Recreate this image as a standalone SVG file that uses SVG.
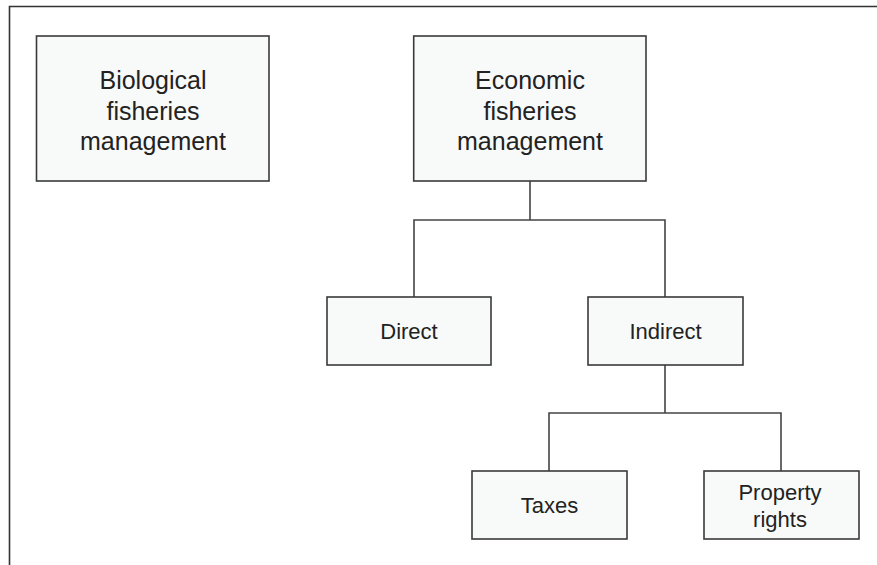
<svg xmlns="http://www.w3.org/2000/svg" width="877" height="565" viewBox="0 0 877 565">
<style>
.box{fill:#f8f9f9;stroke:#3a3a3a;stroke-width:1.6}
.lbl{font-family:"Liberation Sans",Arial,sans-serif;fill:#222;text-anchor:middle}
.big{font-size:25px}
.sm{font-size:22px}
.conn{fill:none;stroke:#444;stroke-width:1.6}
</style>
<rect width="877" height="565" fill="#fff"/>
<path d="M9.5,565 V6.5 H877" fill="none" stroke="#333" stroke-width="1.6"/>
<g id="connectors">
<path class="conn" d="M530,181 V220 M414,297 V220 H665 V297"/>
<path class="conn" d="M665,365 V413 M549,471 V413 H781 V471"/>
</g>
<g id="bio">
<rect class="box" x="36.5" y="36" width="232.5" height="145"/>
<text class="lbl big" x="153" y="89">Biological</text>
<text class="lbl big" x="153" y="119.5">fisheries</text>
<text class="lbl big" x="153" y="150">management</text>
</g>
<g id="eco">
<rect class="box" x="413.7" y="36" width="232.3" height="145"/>
<text class="lbl big" x="530" y="89">Economic</text>
<text class="lbl big" x="530" y="119.5">fisheries</text>
<text class="lbl big" x="530" y="150">management</text>
</g>
<g id="direct">
<rect class="box" x="327" y="297" width="164" height="68"/>
<text class="lbl sm" x="409" y="339">Direct</text>
</g>
<g id="indirect">
<rect class="box" x="588" y="297" width="155" height="68"/>
<text class="lbl sm" x="665.5" y="339">Indirect</text>
</g>
<g id="taxes">
<rect class="box" x="472" y="471" width="155" height="68"/>
<text class="lbl sm" x="549.5" y="513">Taxes</text>
</g>
<g id="property">
<rect class="box" x="704" y="471" width="155" height="68"/>
<text class="lbl sm" x="780" y="500">Property</text>
<text class="lbl sm" x="780" y="526.5">rights</text>
</g>
</svg>
